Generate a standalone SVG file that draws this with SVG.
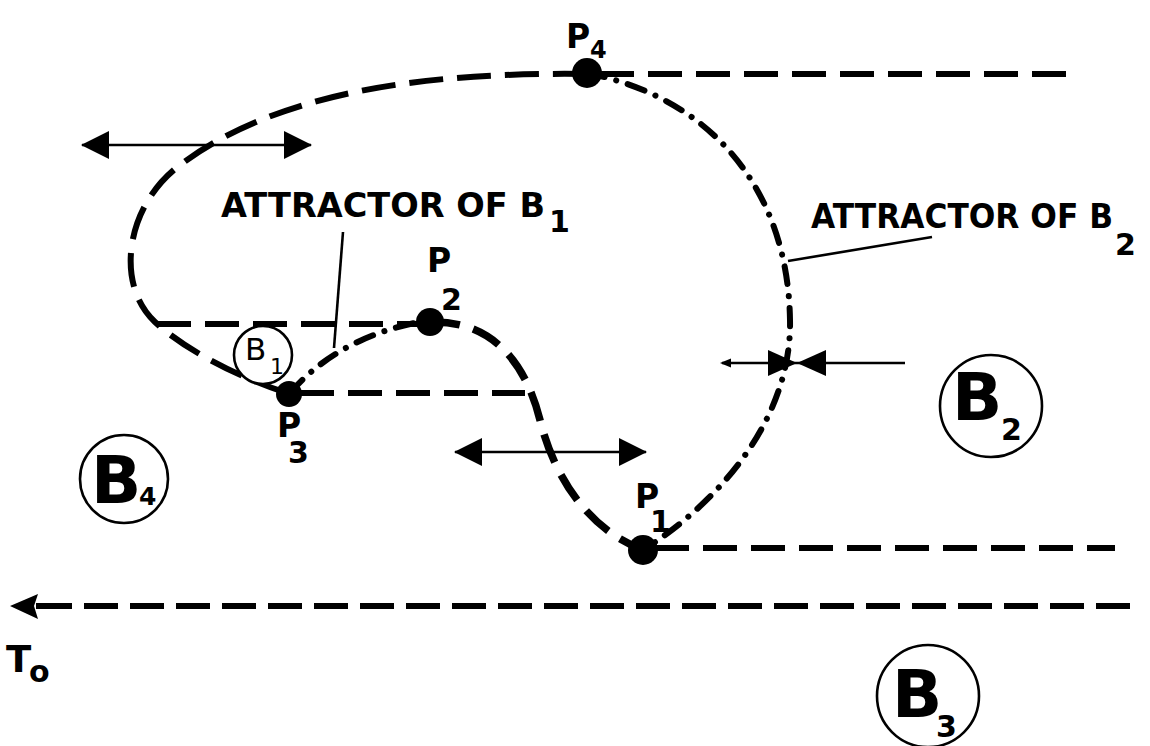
<svg xmlns="http://www.w3.org/2000/svg" width="1150" height="746" viewBox="0 0 1150 746">
<style>
.bg{fill:#fff}
.dash{fill:none;stroke:#000;stroke-width:6;stroke-dasharray:34 14}
.thick{fill:none;stroke:#000;stroke-width:7.5;stroke-dasharray:30 14}
.dd{fill:none;stroke:#000;stroke-width:6;stroke-linecap:round;stroke-dasharray:18 12 0.1 12}
.thin{fill:none;stroke:#000;stroke-width:2.6}
.ring{fill:#fff;stroke:#000;stroke-width:2.6}
.dot{fill:#000}
.head{fill:#000;stroke:none}
text{font-family:"DejaVu Sans","Liberation Sans",sans-serif;font-weight:bold;fill:#000}
.lbl{font-size:33px}
.sub{font-size:30px}
.big{font-size:66px}
.light{font-weight:normal}
</style>
<defs>
<marker id="tri" viewBox="0 0 28 28" refX="27" refY="14" markerWidth="28" markerHeight="28" markerUnits="userSpaceOnUse" orient="auto-start-reverse">
<path d="M0,0 L28,14 L0,28 z" fill="#000"/>
</marker>
</defs>
<rect class="bg" x="0" y="0" width="1150" height="746"/>
<g id="connectors">
<path class="dash" d="M587,74 C430,72 280,90 180,165 C125,206 115,285 155,322 C185,350 240,378 287,393"/>
<line class="dash" x1="157" y1="324" x2="420" y2="324"/>
<line class="dash" x1="300" y1="393" x2="525" y2="393"/>
<line class="dash" x1="600" y1="74" x2="1070" y2="74"/>
<line class="dash" x1="655" y1="548" x2="1115" y2="548"/>
<path class="thick" d="M430,322 C490,320 525,360 540,420 C555,480 590,530 643,550"/>
<path class="dd" d="M290,393 Q340,335 430,320"/>
<path class="dd" d="M587,73 C712,98 788,190 790,320 C792,410 730,495 643,550"/>
<line x1="36" y1="606" x2="72" y2="606" stroke="#000" stroke-width="6"/>
<line class="dash" x1="84" y1="606" x2="1130" y2="606" style="stroke-dasharray:34 12"/>
<polygon class="head" points="10,606 38,594 34,606 38,619"/>
<line class="thin" x1="82" y1="145" x2="311" y2="145" marker-start="url(#tri)" marker-end="url(#tri)"/>
<line class="thin" x1="455" y1="452" x2="646" y2="452" marker-start="url(#tri)" marker-end="url(#tri)"/>
<line class="thin" x1="722" y1="363" x2="905" y2="363"/>
<polygon class="head" points="720,363 731,358.5 731,367.5"/>
<polygon class="head" points="768,350 797,363 768,376"/>
<polygon class="head" points="826,350 797,363 826,376"/>
<line class="thin" x1="343" y1="232" x2="334" y2="348"/>
<line class="thin" x1="932" y1="237" x2="788" y2="261"/>
</g>
<g id="P4">
<circle class="dot" cx="587" cy="73" r="15"/>
<text class="lbl" x="566" y="48">P<tspan x="590" y="58" style="font-size:24px">4</tspan></text>
</g>
<g id="P2">
<circle class="dot" cx="430" cy="322" r="14"/>
<text class="lbl" x="427" y="272">P<tspan class="sub" x="441" y="310">2</tspan></text>
</g>
<g id="P3">
<circle class="dot" cx="289" cy="394" r="13"/>
<text class="lbl" x="277" y="437">P<tspan class="sub" x="288" y="463">3</tspan></text>
</g>
<g id="P1">
<circle class="dot" cx="643" cy="550" r="15"/>
<text class="lbl" x="635" y="508">P<tspan class="sub" x="650" y="532">1</tspan></text>
</g>
<g id="B1">
<circle class="ring" cx="263" cy="355" r="29"/>
<text class="light" x="245" y="360" style="font-size:31px">B<tspan x="270" y="374" style="font-size:22px">1</tspan></text>
</g>
<g id="B2">
<circle class="ring" cx="991" cy="406" r="51"/>
<text class="big" x="952" y="420">B<tspan class="sub" x="1001" y="440">2</tspan></text>
</g>
<g id="B3">
<circle class="ring" cx="928" cy="696" r="51"/>
<text class="big" x="892" y="717">B<tspan class="sub" x="936" y="737">3</tspan></text>
</g>
<g id="B4">
<circle class="ring" cx="124" cy="479" r="44"/>
<text class="big" x="91" y="503">B<tspan x="139" y="505" style="font-size:25px">4</tspan></text>
</g>
<g id="label-attractor-B1">
<text class="lbl" x="221" y="217"><tspan textLength="324" lengthAdjust="spacingAndGlyphs">ATTRACTOR OF B</tspan><tspan class="sub" x="549" y="232">1</tspan></text>
</g>
<g id="label-attractor-B2">
<text class="lbl" x="811" y="228"><tspan textLength="302" lengthAdjust="spacingAndGlyphs">ATTRACTOR OF B</tspan><tspan class="sub" x="1115" y="255">2</tspan></text>
</g>
<g id="label-To">
<text x="6" y="672" style="font-size:37px">T<tspan x="29" y="682" style="font-size:30px">o</tspan></text>
</g>
</svg>
